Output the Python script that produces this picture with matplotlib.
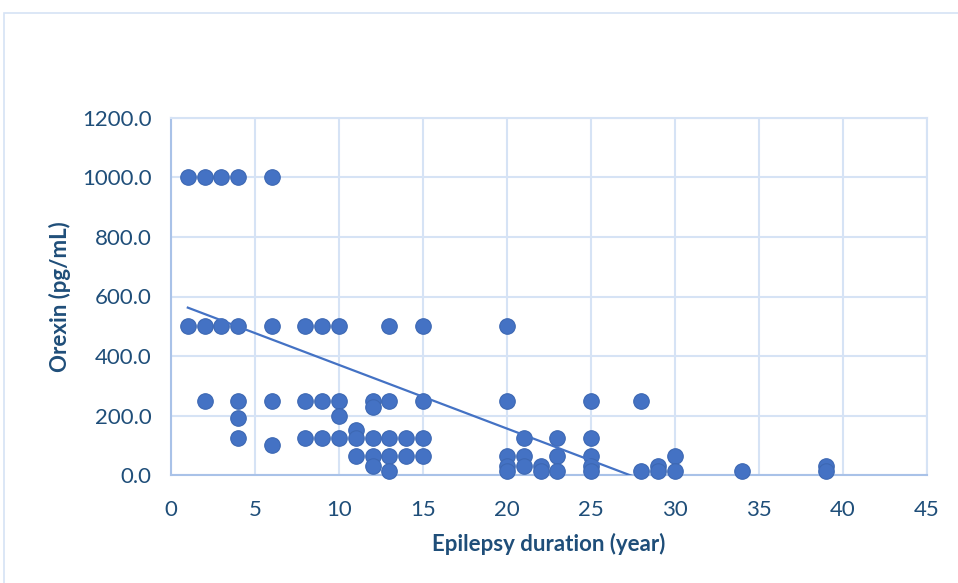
import numpy as np
import matplotlib
matplotlib.use("Agg")
import matplotlib.pyplot as plt
from matplotlib.patches import Rectangle

# Data: epilepsy duration (year) vs orexin (pg/mL)
duration = [1, 2, 3, 4, 6,
            1, 2, 3, 4, 6, 8, 9, 10, 13, 15, 20,
            2, 4, 6, 8, 9, 10, 12, 13, 15, 20, 25, 28,
            12, 4, 4, 6, 8, 9, 10, 10,
            11, 11, 11, 12, 12, 12, 13, 13, 13, 14, 14, 15, 15,
            20, 20, 20, 21, 21, 21, 22, 22, 23, 23, 23,
            25, 25, 25, 25, 28, 29, 29, 30, 30, 34, 39, 39]
orexin = [1000, 1000, 1000, 1000, 1000,
          500, 500, 500, 500, 500, 500, 500, 500, 500, 500, 500,
          250, 250, 250, 250, 250, 250, 250, 250, 250, 250, 250, 250,
          228, 190, 125, 100, 125, 125, 200, 125,
          150, 125, 62.5, 125, 62.5, 31, 125, 62.5, 15, 125, 62.5, 125, 62.5,
          62.5, 31, 15, 125, 62.5, 31, 31, 15, 125, 62.5, 15,
          125, 62.5, 31, 15, 15, 31, 15, 62.5, 15, 15, 31, 15]

# Linear trendline (intercept, slope per year)
trend_intercept = 584.0
trend_slope = -21.4
trend_x = [1, 39]

x_ticks = [0, 5, 10, 15, 20, 25, 30, 35, 40, 45]
y_ticks = [0, 200, 400, 600, 800, 1000, 1200]

text_color = "#1F4E79"
grid_color = "#D6E3F5"
axis_color = "#A9C2E8"
marker_color = "#4472C4"

plt.rcParams["font.family"] = ["Lato", "DejaVu Sans"]

fig = plt.figure(figsize=(9.58, 5.83), dpi=100)
# chart border
fig.patches.append(Rectangle((4/958, -0.1), 1.2, 1.1 - 13/583, transform=fig.transFigure,
                             fill=False, edgecolor="#D6E3F5", linewidth=1.2))
ax = fig.add_axes([171/958, (583-475)/583, (927-171)/958, (475-118)/583])

ax.scatter(duration, orexin, s=125, color=marker_color, edgecolor="#3D68B3",
           linewidth=0.8, zorder=3, clip_on=False)

tx = np.array(trend_x, dtype=float)
ax.plot(tx, trend_intercept + trend_slope * tx, color=marker_color,
        linewidth=1.6, zorder=4)

ax.set_xlim(0, 45)
ax.set_ylim(0, 1200)
ax.set_xticks(x_ticks)
ax.set_yticks(y_ticks)
ax.set_yticklabels([f"{v:.1f}" for v in y_ticks])
ax.grid(True, color=grid_color, linewidth=1.5, zorder=0)
ax.set_axisbelow(True)
for s in ["top", "right"]:
    ax.spines[s].set_color(grid_color)
    ax.spines[s].set_linewidth(1.5)
for s in ["left", "bottom"]:
    ax.spines[s].set_color(axis_color)
    ax.spines[s].set_linewidth(1.5)
ax.tick_params(length=0, labelsize=16, colors=text_color)
ax.tick_params(axis="y", pad=14)
ax.tick_params(axis="x", pad=18)
ax.set_xlabel("Epilepsy duration (year)", fontsize=16, fontweight="bold",
              color=text_color, labelpad=9)
ax.set_ylabel("Orexin (pg/mL)", fontsize=16, fontweight="bold",
              color=text_color, labelpad=8)

fig.savefig("out.png", dpi=100)
